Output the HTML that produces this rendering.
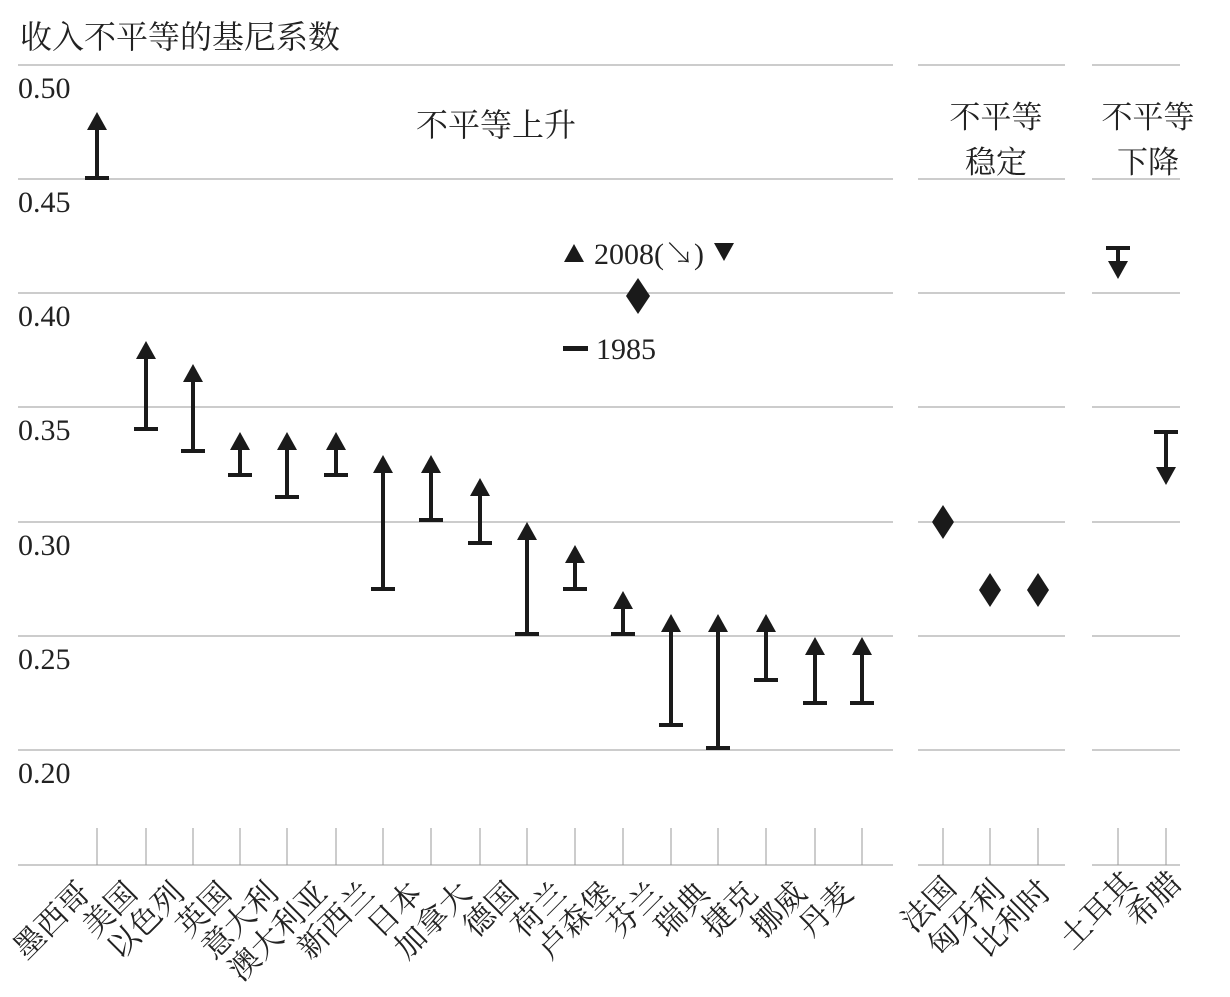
<!DOCTYPE html>
<html><head><meta charset="utf-8"><style>html,body{margin:0;padding:0;background:#fff}</style></head>
<body>
<svg width="1230" height="992" xmlns="http://www.w3.org/2000/svg" font-family="'Liberation Serif','Noto Serif CJK SC',serif">
<g stroke="#999" stroke-width="1">
<line x1="18" y1="65" x2="893" y2="65"/><line x1="918" y1="65" x2="1065" y2="65"/><line x1="1092" y1="65" x2="1180" y2="65"/>
<line x1="18" y1="179" x2="893" y2="179"/><line x1="918" y1="179" x2="1065" y2="179"/><line x1="1092" y1="179" x2="1180" y2="179"/>
<line x1="18" y1="293" x2="893" y2="293"/><line x1="918" y1="293" x2="1065" y2="293"/><line x1="1092" y1="293" x2="1180" y2="293"/>
<line x1="18" y1="407" x2="893" y2="407"/><line x1="918" y1="407" x2="1065" y2="407"/><line x1="1092" y1="407" x2="1180" y2="407"/>
<line x1="18" y1="522" x2="893" y2="522"/><line x1="918" y1="522" x2="1065" y2="522"/><line x1="1092" y1="522" x2="1180" y2="522"/>
<line x1="18" y1="636" x2="893" y2="636"/><line x1="918" y1="636" x2="1065" y2="636"/><line x1="1092" y1="636" x2="1180" y2="636"/>
<line x1="18" y1="750" x2="893" y2="750"/><line x1="918" y1="750" x2="1065" y2="750"/><line x1="1092" y1="750" x2="1180" y2="750"/>
<line x1="18" y1="865" x2="893" y2="865"/><line x1="918" y1="865" x2="1065" y2="865"/><line x1="1092" y1="865" x2="1180" y2="865"/>
<path d="M97 828V865M146 828V865M193 828V865M240 828V865M287 828V865M336 828V865M383 828V865M431 828V865M480 828V865M527 828V865M575 828V865M623 828V865M671 828V865M718 828V865M766 828V865M815 828V865M862 828V865M943 828V865M990 828V865M1038 828V865M1118 828V865M1166 828V865"/>
</g>
<g font-size="30" fill="#222">
<text x="20" y="48" font-size="32">收入不平等的基尼系数</text>
<text x="18" y="98">0.50</text><text x="18" y="212">0.45</text><text x="18" y="326">0.40</text>
<text x="18" y="440">0.35</text><text x="18" y="555">0.30</text><text x="18" y="669">0.25</text><text x="18" y="783">0.20</text>
<text x="496" y="136" text-anchor="middle" font-size="32">不平等上升</text>
<text x="996" y="128" text-anchor="middle" font-size="31">不平等</text>
<text x="996" y="173" text-anchor="middle" font-size="31">稳定</text>
<text x="1148" y="128" text-anchor="middle" font-size="31">不平等</text>
<text x="1148" y="173" text-anchor="middle" font-size="31">下降</text>
<text x="594" y="264">2008(↘)</text>
<text x="596" y="359">1985</text>
</g>
<g fill="#1a1a1a">
<polygon points="564,262 584,262 574,244"/>
<polygon points="714,243 734,243 724,261"/>
<polygon points="638,278 650,296 638,314 626,296"/>
<rect x="563" y="346" width="25" height="5"/>
<polygon points="943,505 954,522 943,539 932,522"/>
<polygon points="990,573 1001,590 990,607 979,590"/>
<polygon points="1038,573 1049,590 1038,607 1027,590"/>
</g>
<path stroke="#1a1a1a" stroke-width="4" fill="none" d="M85 178H109M97 178V126M134 429H158M146 429V355M181 451H205M193 451V378M228 475H252M240 475V446M275 497H299M287 497V446M324 475H348M336 475V446M371 589H395M383 589V469M419 520H443M431 520V469M468 543H492M480 543V492M515 634H539M527 634V536M563 589H587M575 589V559M611 634H635M623 634V605M659 725H683M671 725V628M706 748H730M718 748V628M754 680H778M766 680V628M803 703H827M815 703V651M850 703H874M862 703V651M1106 248H1130M1118 248V265M1154 432H1178M1166 432V471"/>
<g fill="#1a1a1a">
<polygon points="87,130 107,130 97,112"/>
<polygon points="136,359 156,359 146,341"/>
<polygon points="183,382 203,382 193,364"/>
<polygon points="230,450 250,450 240,432"/>
<polygon points="277,450 297,450 287,432"/>
<polygon points="326,450 346,450 336,432"/>
<polygon points="373,473 393,473 383,455"/>
<polygon points="421,473 441,473 431,455"/>
<polygon points="470,496 490,496 480,478"/>
<polygon points="517,540 537,540 527,522"/>
<polygon points="565,563 585,563 575,545"/>
<polygon points="613,609 633,609 623,591"/>
<polygon points="661,632 681,632 671,614"/>
<polygon points="708,632 728,632 718,614"/>
<polygon points="756,632 776,632 766,614"/>
<polygon points="805,655 825,655 815,637"/>
<polygon points="852,655 872,655 862,637"/>
<polygon points="1108,261 1128,261 1118,279"/>
<polygon points="1156,467 1176,467 1166,485"/>
</g>
<g font-size="31" fill="#222" text-anchor="end">
<text transform="translate(92,895) rotate(-45)">墨西哥</text>
<text transform="translate(139,895) rotate(-45)">美国</text>
<text transform="translate(186,895) rotate(-45)">以色列</text>
<text transform="translate(233,895) rotate(-45)">英国</text>
<text transform="translate(280,895) rotate(-45)">意大利</text>
<text transform="translate(329,895) rotate(-45)">澳大利亚</text>
<text transform="translate(376,895) rotate(-45)">新西兰</text>
<text transform="translate(424,895) rotate(-45)">日本</text>
<text transform="translate(473,895) rotate(-45)">加拿大</text>
<text transform="translate(520,895) rotate(-45)">德国</text>
<text transform="translate(568,895) rotate(-45)">荷兰</text>
<text transform="translate(616,895) rotate(-45)">卢森堡</text>
<text transform="translate(664,895) rotate(-45)">芬兰</text>
<text transform="translate(711,895) rotate(-45)">瑞典</text>
<text transform="translate(759,895) rotate(-45)">捷克</text>
<text transform="translate(808,895) rotate(-45)">挪威</text>
<text transform="translate(855,895) rotate(-45)">丹麦</text>
<text transform="translate(958,890) rotate(-45)">法国</text>
<text transform="translate(1006,893) rotate(-45)">匈牙利</text>
<text transform="translate(1053,893) rotate(-45)">比利时</text>
<text transform="translate(1138,885) rotate(-45)">土耳其</text>
<text transform="translate(1183,885) rotate(-45)">希腊</text>
</g>
</svg>
</body></html>
